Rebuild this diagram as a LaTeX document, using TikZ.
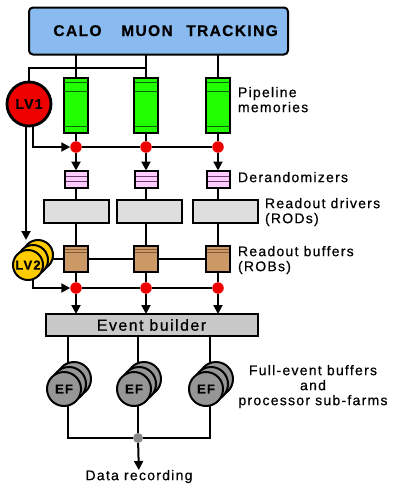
\documentclass[tikz,border=0pt]{standalone}
\usepackage{fontspec}
\setmainfont{Liberation Sans}[LetterSpace=9,FakeBold=0.5]
\usetikzlibrary{arrows.meta,backgrounds,calc}
\definecolor{detblue}{RGB}{138,187,240}
\definecolor{pipegreen}{RGB}{34,255,0}
\definecolor{pipedark}{RGB}{10,100,10}
\definecolor{derpink}{RGB}{255,204,255}
\definecolor{derdark}{RGB}{110,60,110}
\definecolor{rodgray}{RGB}{222,222,222}
\definecolor{robbrown}{RGB}{204,153,102}
\definecolor{robdark}{RGB}{130,90,50}
\definecolor{ebgray}{RGB}{200,200,200}
\definecolor{efgray}{RGB}{150,150,150}
\definecolor{lvred}{RGB}{238,0,0}
\definecolor{lvyellow}{RGB}{255,204,0}
\definecolor{dotgray}{RGB}{136,136,136}
\begin{document}
\begin{tikzpicture}[x=1pt,y=-1pt,
  every node/.style={inner sep=0pt,outer sep=0pt},
  bord/.style={draw=black,line width=2pt},
  detbox/.style={bord,fill=detblue,rounded corners=4pt,minimum width=259pt,minimum height=47pt},
  toptext/.style={font=\bfseries\fontsize{15.5}{16}\selectfont},
  lbl/.style={font=\fontsize{14}{15}\selectfont,align=left,anchor=north west},
  pipe/.style={bord,fill=pipegreen,minimum width=24pt,minimum height=55pt},
  pstripe/.style={draw=pipedark,line width=1.5pt},
  derand/.style={bord,fill=derpink,minimum width=23pt,minimum height=17pt},
  dstripe/.style={draw=derdark,line width=1.2pt},
  rod/.style={bord,fill=rodgray,minimum width=65pt,minimum height=23pt},
  rob/.style={bord,fill=robbrown,minimum width=24pt,minimum height=26pt},
  rstripe/.style={draw=robdark,line width=0.8pt},
  reddot/.style={circle,fill=lvred,minimum size=11.5pt},
  graydot/.style={circle,fill=dotgray,minimum size=10pt},
  lvone/.style={circle,draw=black,line width=2.8pt,fill=lvred,minimum size=44pt,font=\bfseries\fontsize{14}{14}\selectfont},
  lvtwo/.style={circle,bord,fill=lvyellow,minimum size=30pt,font=\bfseries\fontsize{13}{13}\selectfont},
  efc/.style={circle,bord,fill=efgray,minimum size=34pt,font=\bfseries\fontsize{13}{13}\selectfont},
  ebbox/.style={bord,fill=ebgray,minimum width=212pt,minimum height=22pt,font=\fontsize{16}{16}\selectfont},
  conn/.style={line width=2pt},
  arr/.style={-{Triangle[length=9pt,width=9pt]}}
]
\useasboundingbox (0,0) rectangle (392,485);

% detector box
\node[detbox] (det) at (158.5,31) {};
\node[toptext,anchor=base] (calo) at (77.5,36) {CALO};
\node[toptext,anchor=base] (muon) at (147,36) {MUON};
\node[toptext,anchor=base] (trk) at (232,36) {TRACKING};

% LV1
\node[lvone] (lv1) at (29,104) {LV1};
\coordinate (j1) at (146,68);

% columns
\foreach \i/\x in {1/76,2/146,3/218}{
  \node[pipe] (pm\i) at (\x,105) {};
  \draw[pstripe] ([xshift=1pt,yshift=-5pt]pm\i.north west) -- ([xshift=-1pt,yshift=-5pt]pm\i.north east);
  \draw[pstripe] ([xshift=1pt,yshift=-14pt]pm\i.north west) -- ([xshift=-1pt,yshift=-14pt]pm\i.north east);
  \draw[pstripe] ([xshift=1pt,yshift=6pt]pm\i.south west) -- ([xshift=-1pt,yshift=6pt]pm\i.south east);
  \node[reddot] (d\i) at (\x,147) {};
  \node[derand] (dr\i) at (\x,179) {};
  \draw[dstripe] ([xshift=1pt,yshift=-6pt]dr\i.north west) -- ([xshift=-1pt,yshift=-6pt]dr\i.north east);
  \draw[dstripe] ([xshift=1pt,yshift=6pt]dr\i.south west) -- ([xshift=-1pt,yshift=6pt]dr\i.south east);
  \node[rob] (rob\i) at (\x,259) {};
  \draw[rstripe] ([xshift=1pt,yshift=-3pt]rob\i.north west) -- ([xshift=-1pt,yshift=-3pt]rob\i.north east);
  \draw[rstripe] ([xshift=1pt,yshift=-6pt]rob\i.north west) -- ([xshift=-1pt,yshift=-6pt]rob\i.north east);
  \node[reddot] (e\i) at (\x,288) {};
}
\node[rod] (rod1) at (76,211) {};
\node[rod] (rod2) at (149.5,211) {};
\node[rod] (rod3) at (225,211) {};

% LV2
\node[lvtwo] (lv2c) at (38,255) {};
\node[lvtwo] (lv2b) at (33,260) {};
\node[lvtwo] (lv2) at (28,265) {LV2};

% event builder
\node[ebbox] (eb) at (151.5,325) {Event builder};

% EF stacks
\foreach \i/\x in {1/64,2/134,3/206}{
  \node[efc] (efc\i) at (\x+10,379) {};
  \node[efc] (efb\i) at (\x+5,384) {};
  \node[efc] (ef\i) at (\x,389) {EF};
}
\coordinate (f1) at (68,0);
\coordinate (f2) at (138,0);
\coordinate (f3) at (210,0);
\node[graydot] (gd) at (138,438) {};
\node[font=\fontsize{14}{15}\selectfont,anchor=north] (rec) at (139,470) {Data recording};

% labels
\node[lbl] (lpm) at (238,87) {Pipeline\\memories};
\node[lbl] (lder) at (238,172) {Derandomizers};
\node[lbl] (lrod) at (265,198) {Readout drivers\\(RODs)};
\node[lbl] (lrob) at (238,246) {Readout buffers\\(ROBs)};
\node[font=\fontsize{14}{15}\selectfont,align=center,anchor=north] (lef) at (313,365) {Full-event buffers\\and\\processor sub-farms};

\begin{pgfonlayer}{background}
\begin{scope}[conn]
  \foreach \i in {1,2,3}{
    \draw (det.south -| pm\i) -- (pm\i);
    \draw (pm\i) -- (d\i);
    \draw[arr] (d\i) -- (dr\i);
    \draw (dr\i) -- (dr\i |- rod\i.north);
    \draw (rod\i.south -| rob\i) -- (rob\i);
    \draw (rob\i) -- (e\i);
    \draw[arr] (e\i) -- (e\i |- eb.north);
    \draw (eb.south -| f\i) -- (f\i |- efc\i.center);
  }
  \draw (lv1) |- (j1);
  \draw[arr] ([xshift=4pt]lv1.south) |- (d1);
  \draw (d1) -- (d2) -- (d3);
  \draw[arr] ([xshift=-3pt]lv1.south) -- ([xshift=-3pt]lv1.south |- lv2c.north);
  \draw (lv2c.center |- rob1) -- (rob1);
  \draw (rob1) -- (rob2) -- (rob3);
  \draw[arr] ([xshift=5pt]lv2.south) |- (e1);
  \draw (e1) -- (e2) -- (e3);
  \draw (f1 |- ef1.center) |- (gd);
  \draw (f2 |- ef2.center) -- (gd);
  \draw (f3 |- ef3.center) |- (gd);
  \draw[arr] (gd) -- (rec);
\end{scope}
\end{pgfonlayer}
\end{tikzpicture}
\end{document}
